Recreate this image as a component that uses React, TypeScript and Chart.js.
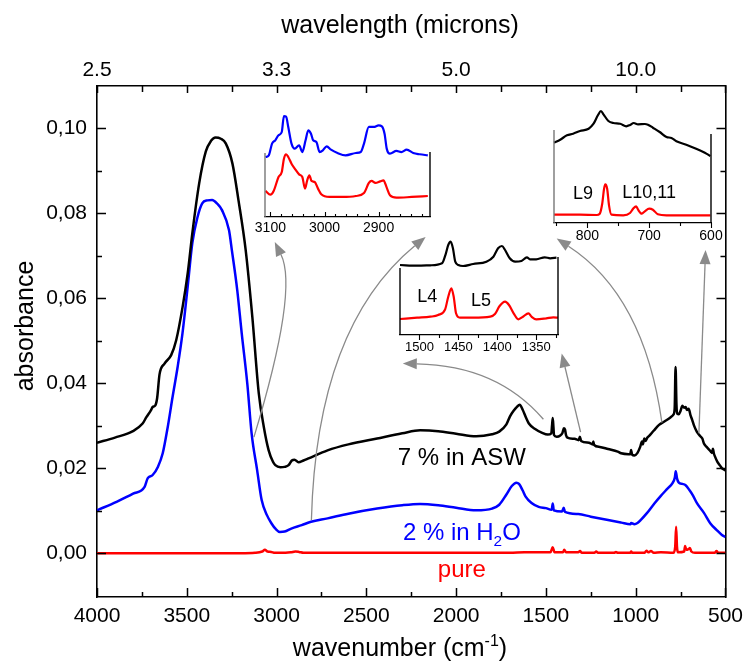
import React, { useEffect, useRef } from "react";
import { Chart, registerables } from "chart.js";
Chart.register(...registerables);

const FONT = '"Liberation Sans", Arial, Helvetica, sans-serif';

// ---------- main spectrum data (wavenumber cm-1, absorbance) ----------
const ASW_WN = [4000,3900,3800,3746,3725,3700,3690,3675,3665,3652,3624,3587,3559,3523,3495,3469,3431,3394,3365,3340,3310,3283,3246,3212,3172,3135,3099,3071,3044,3020,3007,2979,2955,2933,2915,2900,2878,2850,2822,2716,2600,2440,2300,2200,2100,2000,1889,1800,1760,1720,1700,1680,1660,1646,1630,1610,1595,1560,1521,1490,1470,1466,1462,1458,1455,1440,1420,1408,1400,1394,1388,1380,1340,1318,1311,1304,1260,1240,1236,1232,1200,1154,1100,1081,1040,1030,1026,1020,1007,990,975,965,960,952,945,935,925,900,870,840,805,790,783,778,773,768,760,750,740,730,722,715,705,695,685,675,660,640,629,620,605,590,580,575,570,565,560,545,530,520,510,500];
const ASW_ABS = [0.0260,0.0272,0.0287,0.0305,0.0320,0.0336,0.0344,0.0348,0.0365,0.0420,0.0446,0.0466,0.0501,0.0580,0.0658,0.0753,0.0870,0.0945,0.0970,0.0978,0.0975,0.0964,0.0917,0.0830,0.0713,0.0556,0.0376,0.0297,0.0242,0.0215,0.0207,0.0202,0.0203,0.0207,0.0218,0.0220,0.0214,0.0218,0.0223,0.0242,0.0256,0.0270,0.0282,0.0289,0.0287,0.0281,0.0275,0.0280,0.0286,0.0303,0.0322,0.0335,0.0345,0.0349,0.0338,0.0318,0.0305,0.0292,0.0283,0.0279,0.0282,0.0300,0.0318,0.0296,0.0278,0.0274,0.0277,0.0283,0.0294,0.0291,0.0278,0.0272,0.0269,0.0266,0.0274,0.0264,0.0260,0.0256,0.0263,0.0255,0.0250,0.0245,0.0239,0.0235,0.0233,0.0233,0.0243,0.0232,0.0230,0.0236,0.0250,0.0263,0.0256,0.0270,0.0264,0.0272,0.0276,0.0288,0.0302,0.0310,0.0320,0.0326,0.0340,0.0438,0.0350,0.0328,0.0327,0.0335,0.0347,0.0342,0.0344,0.0337,0.0340,0.0325,0.0313,0.0300,0.0286,0.0275,0.0270,0.0258,0.0250,0.0243,0.0238,0.0236,0.0246,0.0235,0.0229,0.0215,0.0206,0.0200,0.0197,0.0195];

const H2O_WN = [4000,3891,3799,3735,3718,3690,3661,3634,3606,3579,3551,3524,3495,3469,3440,3414,3385,3359,3330,3304,3265,3249,3219,3194,3163,3139,3108,3083,3053,3028,3005,2982,2955,2918,2860,2808,2716,2600,2440,2300,2201,2100,2000,1889,1800,1760,1720,1690,1665,1650,1630,1613,1580,1540,1500,1468,1462,1456,1410,1401,1394,1320,1250,1154,1080,1030,1025,1007,990,970,940,896,860,823,795,782,777,770,760,740,722,700,680,658,620,584,550,520,500];
const H2O_ABS = [0.0101,0.0121,0.0140,0.0156,0.0176,0.0184,0.0203,0.0235,0.0297,0.0368,0.0438,0.0517,0.0627,0.0730,0.0791,0.0823,0.0830,0.0831,0.0822,0.0807,0.0760,0.0713,0.0619,0.0517,0.0399,0.0282,0.0195,0.0125,0.0089,0.0070,0.0057,0.0050,0.0051,0.0058,0.0066,0.0074,0.0082,0.0093,0.0105,0.0113,0.0116,0.0113,0.0107,0.0101,0.0105,0.0114,0.0138,0.0158,0.0166,0.0163,0.0148,0.0133,0.0118,0.0109,0.0106,0.0102,0.0117,0.0101,0.0098,0.0107,0.0097,0.0092,0.0086,0.0078,0.0072,0.0068,0.0071,0.0068,0.0071,0.0079,0.0093,0.0117,0.0135,0.0152,0.0165,0.0178,0.0193,0.0176,0.0166,0.0163,0.0160,0.0148,0.0135,0.0117,0.0095,0.0070,0.0055,0.0043,0.0038];

const PURE_WN = [4000,3200,3120,3080,3065,3050,3030,3010,2950,2920,2895,2875,2850,2760,1700,1620,1475,1462,1452,1405,1398,1388,1320,1310,1300,1230,1220,1210,1120,1110,1100,1030,1025,1020,950,940,930,915,900,860,790,780,775,770,765,730,725,718,705,698,690,670,560,550,540,500];
const PURE_ABS = [0,0,0.0001,0.0004,0.0008,0.0004,0.0003,0.0001,0.0001,0.0002,0.0004,0.0003,0.0001,0.0001,0.0001,0.0002,0.0002,0.0014,0.0002,0.0002,0.0008,0.0002,0.0002,0.0005,0.0001,0.0001,0.0004,0.0001,0.0001,0.0003,0.0001,0.0001,0.0004,0.0001,0.0001,0.0006,0.0002,0.0005,0.0001,0.0002,0.0001,0.0015,0.0062,0.0015,0.0002,0.0004,0.0017,0.0008,0.0010,0.0012,0.0004,0.0001,0.0001,0.0005,0.0001,0.0001];

// ---------- axes ----------
const X_MAJOR = [4000, 3500, 3000, 2500, 2000, 1500, 1000, 500];
const X_MINOR = [3750, 3250, 2750, 2250, 1750, 1250, 750];
const Y_MAJOR = [0, 0.02, 0.04, 0.06, 0.08, 0.1];
const Y_MINOR = [0.01, 0.03, 0.05, 0.07, 0.09];
const TOP_TICK_WN = [4000, 3000, 2000, 1000];

// ---------- inset 1 (C-H stretch) ----------
const IN1_WN_BLUE = [3109,3103,3097,3091,3085,3079,3075,3071,3067,3061,3055,3047,3041,3035,3030,3025,3021,3015,3009,3003,2996,2988,2976,2961,2942,2933,2927,2918,2909,2900,2894,2889,2885,2879,2867,2858,2848,2836,2824,2809];
const IN1_BLUE = [0.562,0.578,0.688,0.719,0.766,0.797,0.945,0.940,0.844,0.688,0.641,0.672,0.609,0.719,0.813,0.781,0.719,0.703,0.609,0.625,0.663,0.631,0.600,0.578,0.600,0.609,0.688,0.844,0.844,0.859,0.850,0.781,0.641,0.594,0.619,0.609,0.631,0.600,0.588,0.578];
const IN1_WN_RED = [3109,3100,3094,3085,3079,3075,3071,3067,3061,3055,3047,3041,3036,3032,3028,3024,3018,3012,3006,2991,2967,2942,2927,2918,2913,2906,2897,2891,2885,2879,2867,2839,2809];
const IN1_RED = [0.244,0.209,0.244,0.375,0.422,0.547,0.588,0.563,0.500,0.453,0.400,0.375,0.266,0.344,0.391,0.338,0.328,0.266,0.213,0.188,0.188,0.197,0.225,0.319,0.338,0.319,0.334,0.344,0.275,0.203,0.181,0.188,0.197];
const IN1_TICKS = [3100, 3000, 2900];
const IN1_MINOR = [3100,3080,3060,3040,3020,3000,2980,2960,2940,2920,2900,2880,2860,2840,2820];

// ---------- inset 2 (L4, L5) ----------
const IN2_WN_BLACK = [1525,1503,1486,1471,1466,1463,1460,1457,1454,1450,1444,1431,1414,1405,1399,1394,1390,1384,1377,1369,1362,1358,1350,1339,1332,1324];
const IN2_BLACK = [0.700,0.693,0.697,0.717,0.817,0.900,0.933,0.867,0.733,0.700,0.690,0.710,0.733,0.783,0.867,0.890,0.850,0.767,0.733,0.740,0.777,0.757,0.757,0.777,0.767,0.773];
const IN2_WN_RED = [1525,1503,1486,1476,1467,1463,1459,1456,1453,1448,1431,1409,1403,1397,1390,1385,1379,1373,1367,1360,1356,1350,1337,1328,1322];
const IN2_RED = [0.160,0.173,0.183,0.200,0.257,0.383,0.467,0.383,0.217,0.173,0.173,0.183,0.210,0.290,0.333,0.300,0.217,0.157,0.183,0.217,0.183,0.157,0.167,0.177,0.173];
const IN2_TICKS = [1500, 1450, 1400, 1350];
const IN2_MINOR = [1500,1475,1450,1425,1400,1375,1350,1325];

// ---------- inset 3 (L9, L10,11) ----------
const IN3_WN_BLACK = [854,844,833,823,812,798,790,783,778,774,766,758,747,737,731,725,718,707,702,694,683,672,664,656,640,624,610,601];
const IN3_BLACK = [0.803,0.833,0.877,0.893,0.920,0.943,0.993,1.077,1.120,1.087,1.020,1.000,0.993,0.967,0.980,1.000,0.987,0.990,0.983,0.953,0.910,0.860,0.850,0.817,0.783,0.743,0.703,0.670];
const IN3_WN_RED = [854,812,785,780,776,773,771,768,765,761,742,731,726,721,718,712,707,700,694,686,672,601];
const IN3_RED = [0.083,0.083,0.080,0.093,0.193,0.343,0.387,0.343,0.177,0.083,0.077,0.100,0.143,0.167,0.133,0.093,0.117,0.143,0.133,0.087,0.077,0.077];
const IN3_TICKS = [800, 700, 600];
const IN3_MINOR = [850, 800, 750, 700, 650, 600];

// arrows in main-chart data coordinates (wavenumber, absorbance)
const ARROWS: { from: number[]; ctrl?: number[]; to: number[] }[] = [
  { from: [3126, 0.0273], ctrl: [2878, 0.0619], to: [3010, 0.0732] },
  { from: [2806, 0.0078], ctrl: [2778, 0.0532], to: [2170, 0.0744] },
  { from: [1514, 0.0315], ctrl: [1772, 0.0442], to: [2297, 0.0446] },
  { from: [1307, 0.0285], to: [1412, 0.047] },
  { from: [854, 0.0307], ctrl: [953, 0.0607], to: [1440, 0.074] },
  { from: [648, 0.0282], to: [611, 0.0713] },
];

type Part = { t: string; s?: "sup" | "sub" };

const mk = (xs: number[], ys: number[]) => xs.map((x, i) => ({ x, y: ys[i] }));

function drawRich(ctx: CanvasRenderingContext2D, parts: Part[], cx: number, baseY: number, size: number, color: string) {
  ctx.save();
  ctx.fillStyle = color;
  ctx.textBaseline = "alphabetic";
  ctx.textAlign = "left";
  const small = size * 0.64;
  const widths = parts.map((p) => {
    ctx.font = `${p.s ? small : size}px ${FONT}`;
    return ctx.measureText(p.t).width;
  });
  const total = widths.reduce((a, b) => a + b, 0);
  let x = cx - total / 2;
  parts.forEach((p, i) => {
    ctx.font = `${p.s ? small : size}px ${FONT}`;
    const dy = p.s === "sup" ? -size * 0.42 : p.s === "sub" ? size * 0.24 : 0;
    ctx.fillText(p.t, x, baseY + dy);
    x += widths[i];
  });
  ctx.restore();
}

const mainDeco = {
  id: "mainDeco",
  afterDraw(chart: any) {
    const ctx: CanvasRenderingContext2D = chart.ctx;
    const { left, right, top, bottom } = chart.chartArea;
    const xs = chart.scales.x;
    const ys = chart.scales.y;
    ctx.save();
    ctx.strokeStyle = "#000";
    ctx.lineWidth = 1.5;
    ctx.beginPath();
    for (const v of [...X_MAJOR, ...X_MINOR]) {
      const major = X_MAJOR.includes(v);
      const px = Math.round(xs.getPixelForValue(v)) + 0.5;
      ctx.moveTo(px, bottom);
      ctx.lineTo(px, bottom - (major ? 9 : 5));
      ctx.moveTo(px, top);
      ctx.lineTo(px, top + (major ? 7 : 6));
    }
    for (const v of [...Y_MAJOR, ...Y_MINOR]) {
      const major = Y_MAJOR.includes(v);
      const py = Math.round(ys.getPixelForValue(v)) + 0.5;
      ctx.moveTo(left, py);
      ctx.lineTo(left + (major ? 9 : 5), py);
      ctx.moveTo(right, py);
      ctx.lineTo(right - (major ? 9 : 5), py);
    }
    ctx.stroke();

    // arrows
    ctx.strokeStyle = "#8a8a8a";
    ctx.fillStyle = "#8a8a8a";
    ctx.lineWidth = 1.3;
    for (const a of ARROWS) {
      const p0 = [xs.getPixelForValue(a.from[0]), ys.getPixelForValue(a.from[1])];
      const p2 = [xs.getPixelForValue(a.to[0]), ys.getPixelForValue(a.to[1])];
      const pc = a.ctrl ? [xs.getPixelForValue(a.ctrl[0]), ys.getPixelForValue(a.ctrl[1])] : p0;
      let dx = p2[0] - pc[0];
      let dy = p2[1] - pc[1];
      const len = Math.hypot(dx, dy);
      dx /= len;
      dy /= len;
      const head = 14;
      const half = 5.5;
      const bx = p2[0] - dx * head;
      const by = p2[1] - dy * head;
      ctx.beginPath();
      ctx.moveTo(p0[0], p0[1]);
      if (a.ctrl) ctx.quadraticCurveTo(pc[0], pc[1], bx, by);
      else ctx.lineTo(bx, by);
      ctx.stroke();
      ctx.beginPath();
      ctx.moveTo(p2[0], p2[1]);
      ctx.lineTo(bx - dy * half, by + dx * half);
      ctx.lineTo(bx + dy * half, by - dx * half);
      ctx.closePath();
      ctx.fill();
    }
    ctx.restore();

    // series labels
    const lx = xs.getPixelForValue(1968);
    drawRich(ctx, [{ t: "7 % in ASW" }], lx, ys.getPixelForValue(0.0207), 24, "#000");
    drawRich(ctx, [{ t: "2 % in H" }, { t: "2", s: "sub" }, { t: "O" }], lx, ys.getPixelForValue(0.0031), 24, "#0000ff");
    drawRich(ctx, [{ t: "pure" }], lx, ys.getPixelForValue(-0.0056), 24, "#ff0000");

    // axis titles
    drawRich(ctx, [{ t: "wavelength (microns)" }], 400, 33, 25, "#000");
    drawRich(ctx, [{ t: "wavenumber (cm" }, { t: "-1", s: "sup" }, { t: ")" }], 400, 656, 25, "#000");
    ctx.save();
    ctx.translate(33, 326);
    ctx.rotate(-Math.PI / 2);
    drawRich(ctx, [{ t: "absorbance" }], 0, 0, 25, "#000");
    ctx.restore();
  },
};

type InsetDef = {
  area: { left: number; right: number; top: number; bottom: number };
  xRange: number[];
  yMax: number;
  rightTop: number;
  leftColor: string;
  ticks: number[];
  minor: number[];
  tickDir: number;
  font: number;
  pad: number;
  series: { x: number[]; y: number[]; color: string }[];
  labels: { t: string; x: number; y: number }[];
};

const INSETS: InsetDef[] = [
  {
    area: { left: 265, right: 430, top: 153, bottom: 217 },
    xRange: [2805, 3110], yMax: 0.6, rightTop: 0.61, leftColor: "#777",
    ticks: IN1_TICKS, minor: IN1_MINOR, tickDir: -1, font: 14, pad: 3,
    series: [
      { x: IN1_WN_BLUE, y: IN1_BLUE, color: "#0000ff" },
      { x: IN1_WN_RED, y: IN1_RED, color: "#ff0000" },
    ],
    labels: [],
  },
  {
    area: { left: 400, right: 558, top: 268, bottom: 335 },
    xRange: [1322, 1525], yMax: 0.67, rightTop: 0.78, leftColor: "#000",
    ticks: IN2_TICKS, minor: IN2_MINOR, tickDir: 1, font: 13, pad: 5,
    series: [
      { x: IN2_WN_BLACK, y: IN2_BLACK, color: "#000" },
      { x: IN2_WN_RED, y: IN2_RED, color: "#ff0000" },
    ],
    labels: [
      { t: "L4", x: 1490, y: 0.38 },
      { t: "L5", x: 1421, y: 0.343 },
    ],
  },
  {
    area: { left: 554, right: 711, top: 130, bottom: 223 },
    xRange: [600, 854], yMax: 0.93, rightTop: 0.89, leftColor: "#777",
    ticks: IN3_TICKS, minor: IN3_MINOR, tickDir: 1, font: 14, pad: 5,
    series: [
      { x: IN3_WN_BLACK, y: IN3_BLACK, color: "#000" },
      { x: IN3_WN_RED, y: IN3_RED, color: "#ff0000" },
    ],
    labels: [
      { t: "L9", x: 807, y: 0.287 },
      { t: "L10,11", x: 700, y: 0.302 },
    ],
  },
];

const PAD = 30;
const TOPPAD = 70;
const BOT = 30;

function insetBox(d: InsetDef) {
  return {
    left: d.area.left - PAD,
    top: d.area.top - TOPPAD,
    width: d.area.right - d.area.left + 2 * PAD,
    height: d.area.bottom - d.area.top + TOPPAD + BOT,
  };
}

function insetConfig(d: InsetDef): any {
  return {
    type: "line",
    data: {
      datasets: d.series.map((s) => ({
        data: mk(s.x, s.y),
        borderColor: s.color,
        borderWidth: 2.2,
        pointRadius: 0,
        cubicInterpolationMode: "monotone",
        clip: false,
      })),
    },
    options: {
      responsive: false,
      animation: false,
      events: [],
      layout: { padding: { left: PAD, right: PAD, top: TOPPAD, bottom: 0 } },
      plugins: { legend: { display: false }, tooltip: { enabled: false } },
      scales: {
        x: {
          type: "linear",
          min: d.xRange[0],
          max: d.xRange[1],
          reverse: true,
          grid: { display: false, drawTicks: false },
          border: { display: true, color: "#000", width: 1.3 },
          ticks: {
            font: { family: FONT, size: d.font },
            color: "#000",
            padding: d.pad,
            autoSkip: false,
            maxRotation: 0,
            callback: (v: number) => String(v),
          },
          afterBuildTicks: (s: any) => {
            s.ticks = d.ticks.map((v) => ({ value: v }));
          },
          afterFit: (s: any) => {
            s.height = BOT;
          },
        },
        y: { type: "linear", display: false, min: 0, max: d.yMax },
      },
    },
    plugins: [
      {
        id: "insetDeco",
        afterDraw(chart: any) {
          const ctx: CanvasRenderingContext2D = chart.ctx;
          const { left, right, bottom } = chart.chartArea;
          const xs = chart.scales.x;
          const ys = chart.scales.y;
          ctx.save();
          ctx.lineWidth = 1.4;
          ctx.strokeStyle = d.leftColor;
          ctx.beginPath();
          ctx.moveTo(left, bottom);
          ctx.lineTo(left, ys.getPixelForValue(d.yMax));
          ctx.stroke();
          ctx.strokeStyle = "#000";
          ctx.beginPath();
          ctx.moveTo(right, bottom);
          ctx.lineTo(right, ys.getPixelForValue(d.rightTop));
          ctx.stroke();
          ctx.lineWidth = 1.1;
          ctx.beginPath();
          for (const v of d.minor) {
            const px = Math.round(xs.getPixelForValue(v)) + 0.5;
            const len = d.ticks.includes(v) ? 5 : 3;
            ctx.moveTo(px, bottom);
            ctx.lineTo(px, bottom + d.tickDir * len);
          }
          ctx.stroke();
          ctx.fillStyle = "#000";
          ctx.font = `18px ${FONT}`;
          ctx.textAlign = "center";
          ctx.textBaseline = "middle";
          for (const l of d.labels) {
            ctx.fillText(l.t, xs.getPixelForValue(l.x), ys.getPixelForValue(l.y));
          }
          ctx.restore();
        },
      },
    ],
  };
}

export default function App() {
  const mainRef = useRef<HTMLCanvasElement>(null);
  const i1 = useRef<HTMLCanvasElement>(null);
  const i2 = useRef<HTMLCanvasElement>(null);
  const i3 = useRef<HTMLCanvasElement>(null);

  useEffect(() => {
    Chart.defaults.font.family = FONT;
    Chart.defaults.color = "#000";
    const yMin = -0.0103;
    const yMax = 0.1099;
    const line = { borderWidth: 2.5, pointRadius: 0, cubicInterpolationMode: "monotone" as const };
    const main = new Chart(mainRef.current as HTMLCanvasElement, {
      type: "line",
      data: {
        datasets: [
          { data: mk(ASW_WN, ASW_ABS), borderColor: "#000", ...line },
          { data: mk(H2O_WN, H2O_ABS), borderColor: "#0000ff", ...line },
          { data: mk(PURE_WN, PURE_ABS), borderColor: "#ff0000", ...line },
        ],
      },
      options: {
        responsive: false,
        animation: false,
        events: [],
        layout: { padding: 0 },
        plugins: { legend: { display: false }, tooltip: { enabled: false }, title: { display: false } },
        scales: {
          x: {
            type: "linear", position: "bottom", min: 500, max: 4000, reverse: true,
            grid: { display: false, drawTicks: false },
            border: { display: true, color: "#000", width: 1.6 },
            ticks: { font: { family: FONT, size: 21 }, color: "#000", padding: 7, autoSkip: false, maxRotation: 0, callback: (v: any) => String(v) },
            afterBuildTicks: (s: any) => { s.ticks = X_MAJOR.map((v) => ({ value: v })); },
            afterFit: (s: any) => { s.height = 65; },
          },
          xTop: {
            type: "linear", axis: "x", position: "top", min: 500, max: 4000, reverse: true,
            grid: { display: false, drawTicks: false },
            border: { display: true, color: "#000", width: 1.6 },
            ticks: { font: { family: FONT, size: 21 }, color: "#000", padding: 3, autoSkip: false, maxRotation: 0, callback: (v: any) => (1e4 / Number(v)).toFixed(1) },
            afterBuildTicks: (s: any) => { s.ticks = TOP_TICK_WN.map((v) => ({ value: v })); },
            afterFit: (s: any) => { s.height = 86; },
          },
          y: {
            type: "linear", position: "left", min: yMin, max: yMax,
            grid: { display: false, drawTicks: false },
            border: { display: true, color: "#000", width: 1.6 },
            ticks: { font: { family: FONT, size: 21 }, color: "#000", padding: 10, callback: (v: any) => Number(v).toFixed(2).replace(".", ",") },
            afterBuildTicks: (s: any) => { s.ticks = Y_MAJOR.map((v) => ({ value: v })); },
            afterFit: (s: any) => { s.width = 97; },
          },
          yRight: {
            type: "linear", axis: "y", position: "right", min: yMin, max: yMax,
            grid: { display: false, drawTicks: false },
            border: { display: true, color: "#000", width: 1.6 },
            ticks: { display: false },
            afterFit: (s: any) => { s.width = 20; },
          },
        },
      } as any,
      plugins: [mainDeco],
    });
    const refs = [i1, i2, i3];
    const insets = INSETS.map((d, k) => new Chart(refs[k].current as HTMLCanvasElement, insetConfig(d)));
    return () => {
      main.destroy();
      insets.forEach((c) => c.destroy());
    };
  }, []);

  const refs = [i1, i2, i3];
  return (
    <div style={{ position: "fixed", left: 0, top: 0, width: 750, height: 662, background: "#fff", overflow: "hidden" }}>
      <canvas ref={mainRef} width={750} height={662} style={{ position: "absolute", left: 0, top: 0 }} />
      {INSETS.map((d, k) => {
        const b = insetBox(d);
        return (
          <canvas
            key={k}
            ref={refs[k]}
            width={b.width}
            height={b.height}
            style={{ position: "absolute", left: b.left, top: b.top, width: b.width, height: b.height }}
          />
        );
      })}
    </div>
  );
}
